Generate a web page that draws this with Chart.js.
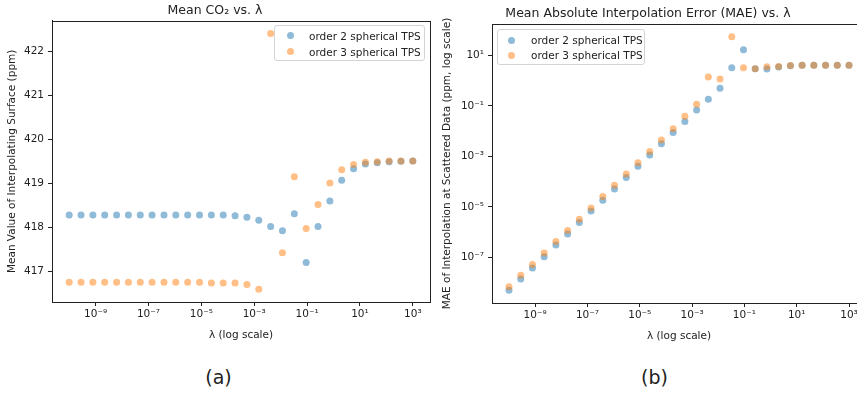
<!DOCTYPE html>
<html><head><meta charset="utf-8">
<script src="https://cdn.jsdelivr.net/npm/chart.js@4.4.0/dist/chart.umd.min.js"></script>
<style>
html,body{margin:0;padding:0;width:857px;height:394px;overflow:hidden;background:#fff;font-family:"DejaVu Sans",sans-serif;}
#wa{position:absolute;left:0;top:0;width:434px;height:342px;}
#wb{position:absolute;left:430px;top:0;width:440px;height:343px;}
.legend{position:absolute;box-sizing:border-box;border:1px solid #d4d4d4;border-radius:3px;background:rgba(255,255,255,0.8);font-size:10.5px;color:#222;}
.legend .mk{position:absolute;width:7px;height:7px;border-radius:50%;margin-left:-3.5px;margin-top:-3.5px;}
.legend .tx{position:absolute;line-height:12px;margin-top:-6px;white-space:nowrap;}
.cap{position:absolute;font-size:19px;color:#222;transform:translate(-50%,-50%);white-space:nowrap;}
</style>
</head><body>
<div id="wa"><canvas id="ca"></canvas></div>
<div id="wb"><canvas id="cb"></canvas></div>
<div class="legend" style="left:274px;top:24.7px;width:151px;height:36px;">
  <div class="mk" style="left:15px;top:10.3px;background:rgba(31,119,180,0.5)"></div>
  <div class="tx" style="left:34px;top:10.3px;">order 2 spherical TPS</div>
  <div class="mk" style="left:15px;top:26.3px;background:rgba(255,127,14,0.5)"></div>
  <div class="tx" style="left:34px;top:26.3px;">order 3 spherical TPS</div>
</div>
<div class="legend" style="left:496.7px;top:29px;width:148px;height:36px;">
  <div class="mk" style="left:14.3px;top:10.3px;background:rgba(31,119,180,0.5)"></div>
  <div class="tx" style="left:33.3px;top:10.3px;">order 2 spherical TPS</div>
  <div class="mk" style="left:14.3px;top:25.3px;background:rgba(255,127,14,0.5)"></div>
  <div class="tx" style="left:33.3px;top:25.3px;">order 3 spherical TPS</div>
</div>
<div class="cap" style="left:218.5px;top:377px;">(a)</div>
<div class="cap" style="left:654.5px;top:377px;">(b)</div>
<script>
// λ grid (30 values, log-spaced 1e-10 .. 1e3)
const lambdas = [1e-10, 2.81e-10, 7.88e-10, 2.21e-9, 6.21e-9, 1.74e-8, 4.89e-8, 1.37e-7, 3.86e-7, 1.08e-6,
  3.04e-6, 8.53e-6, 2.40e-5, 6.72e-5, 1.89e-4, 5.30e-4, 1.49e-3, 4.18e-3, 1.17e-2, 3.29e-2,
  9.24e-2, 0.259, 0.728, 2.04, 5.74, 16.1, 45.2, 127, 356, 1000];

// (a) mean CO2 of interpolating surface (ppm)
const meanOrder2 = [418.28, 418.28, 418.28, 418.28, 418.28, 418.28, 418.28, 418.28, 418.28, 418.28,
  418.28, 418.28, 418.28, 418.28, 418.26, 418.23, 418.16, 418.02, 417.92, 418.31,
  417.20, 418.02, 418.60, 419.07, 419.33, 419.44, 419.47, 419.49, 419.50, 419.51];
const meanOrder3 = [416.75, 416.75, 416.75, 416.75, 416.75, 416.75, 416.75, 416.75, 416.75, 416.75,
  416.75, 416.75, 416.73, 416.73, 416.73, 416.70, 416.59, 422.41, 417.42, 419.15,
  417.97, 418.52, 419.01, 419.31, 419.43, 419.48, 419.49, 419.51, 419.51, 419.51];

// (b) MAE at scattered data (ppm)
const maeOrder2 = [5.0e-9, 1.38e-8, 3.8e-8, 1.05e-7, 3.1e-7, 8.5e-7, 2.4e-6, 6.8e-6, 1.82e-5, 5.1e-5,
  1.45e-4, 4.1e-4, 1.15e-3, 3.2e-3, 8.9e-3, 2.4e-2, 6.9e-2, 0.186, 0.50, 3.3,
  17, 3.0, 2.95, 3.55, 3.95, 4.1, 4.15, 4.15, 4.15, 4.15];
const maeOrder3 = [6.9e-9, 1.95e-8, 5.2e-8, 1.48e-7, 4.2e-7, 1.17e-6, 3.2e-6, 9.1e-6, 2.6e-5, 7.2e-5,
  2.0e-4, 5.6e-4, 1.58e-3, 4.5e-3, 1.26e-2, 3.9e-2, 0.117, 1.4, 1.17, 56,
  3.3, 3.0, 3.6, 3.7, 4.05, 4.15, 4.15, 4.15, 4.15, 4.15];

const xTickValues = [1e-9, 1e-7, 1e-5, 1e-3, 1e-1, 1e1, 1e3];
const yTicksA = [417, 418, 419, 420, 421, 422];
const yTicksB = [1e-7, 1e-5, 1e-3, 1e-1, 1e1];
const seriesNames = ['order 2 spherical TPS', 'order 3 spherical TPS'];

const SUP = {'-':'⁻','0':'⁰','1':'¹','2':'²','3':'³','4':'⁴','5':'⁵','6':'⁶','7':'⁷','8':'⁸','9':'⁹'};
function pow10Label(v){
  const e = Math.round(Math.log10(v));
  return '10' + String(e).split('').map(c => SUP[c]).join('');
}
const FONT = {family:'"DejaVu Sans", sans-serif', size:10.5};
const INK = '#222';
const BLUE = 'rgba(31,119,180,0.5)';
const ORANGE = 'rgba(255,127,14,0.5)';

const boxPlugin = {
  id:'box',
  afterDraw(chart){
    const a = chart.chartArea, c = chart.ctx;
    c.save(); c.strokeStyle = INK; c.lineWidth = 1;
    c.strokeRect(Math.round(a.left)+0.5, Math.round(a.top)+0.5, Math.round(a.right-a.left), Math.round(a.bottom-a.top));
    c.restore();
  }
};

function makeDatasets(s2, s3){
  return [
    {label:seriesNames[0], data:lambdas.map((x,i)=>({x, y:s2[i]})), backgroundColor:BLUE, borderWidth:0, pointRadius:3.5, order:1},
    {label:seriesNames[1], data:lambdas.map((x,i)=>({x, y:s3[i]})), backgroundColor:ORANGE, borderWidth:0, pointRadius:3.5, order:0}
  ];
}

function xScale(){
  return {
    type:'logarithmic', min:Math.pow(10,-10.65), max:Math.pow(10,3.65),
    afterBuildTicks:s => { s.ticks = xTickValues.map(v => ({value:v})); },
    ticks:{callback:v => pow10Label(v), font:FONT, color:INK, padding:2, maxRotation:0, autoSkip:false},
    grid:{drawOnChartArea:false, tickLength:4, color:INK, tickColor:INK},
    border:{color:INK},
    title:{display:true, text:'λ (log scale)', font:FONT, color:INK, padding:0},
    afterFit:s => { s.height = 40; }
  };
}

function makeChart(id, cfg){
  return new Chart(document.getElementById(id), {
    type:'scatter',
    data:{datasets:cfg.datasets},
    options:{
      responsive:true, maintainAspectRatio:false, animation:false,
      layout:{padding:{left:0, right:4, top:0, bottom:0}},
      plugins:{
        legend:{display:false}, tooltip:{enabled:false},
        title:{display:true, text:cfg.title, font:{family:'"DejaVu Sans", sans-serif', size:12.5, weight:'normal'}, color:INK, padding:cfg.titlePad}
      },
      scales:{ x:xScale(), y:cfg.y }
    },
    plugins:[boxPlugin]
  });
}

makeChart('ca', {
  title:'Mean CO₂ vs. λ',
  titlePad:{top:3, bottom:2.7},
  datasets:makeDatasets(meanOrder2, meanOrder3),
  y:{
    type:'linear', min:416.30, max:422.70,
    afterBuildTicks:s => { s.ticks = yTicksA.map(v => ({value:v})); },
    ticks:{font:FONT, color:INK, padding:4},
    grid:{drawOnChartArea:false, tickLength:4, color:INK, tickColor:INK},
    border:{color:INK},
    title:{display:true, text:'Mean Value of Interpolating Surface (ppm)', font:FONT, color:INK, padding:{top:6.4, bottom:0}},
    afterFit:s => { s.width = 52; }
  }
});

makeChart('cb', {
  title:'Mean Absolute Interpolation Error (MAE) vs. λ',
  titlePad:{top:6.5, bottom:2.5},
  datasets:makeDatasets(maeOrder2, maeOrder3),
  y:{
    type:'logarithmic', min:Math.pow(10,-8.81), max:Math.pow(10,2.25),
    afterBuildTicks:s => { s.ticks = yTicksB.map(v => ({value:v})); },
    ticks:{callback:v => pow10Label(v), font:FONT, color:INK, padding:4, autoSkip:false},
    grid:{drawOnChartArea:false, tickLength:4, color:INK, tickColor:INK},
    border:{color:INK},
    title:{display:true, text:'MAE of Interpolation at Scattered Data (ppm, log scale)', font:FONT, color:INK, padding:{top:10.7, bottom:0}},
    afterFit:s => { s.width = 62; }
  }
});
</script>
</body></html>
